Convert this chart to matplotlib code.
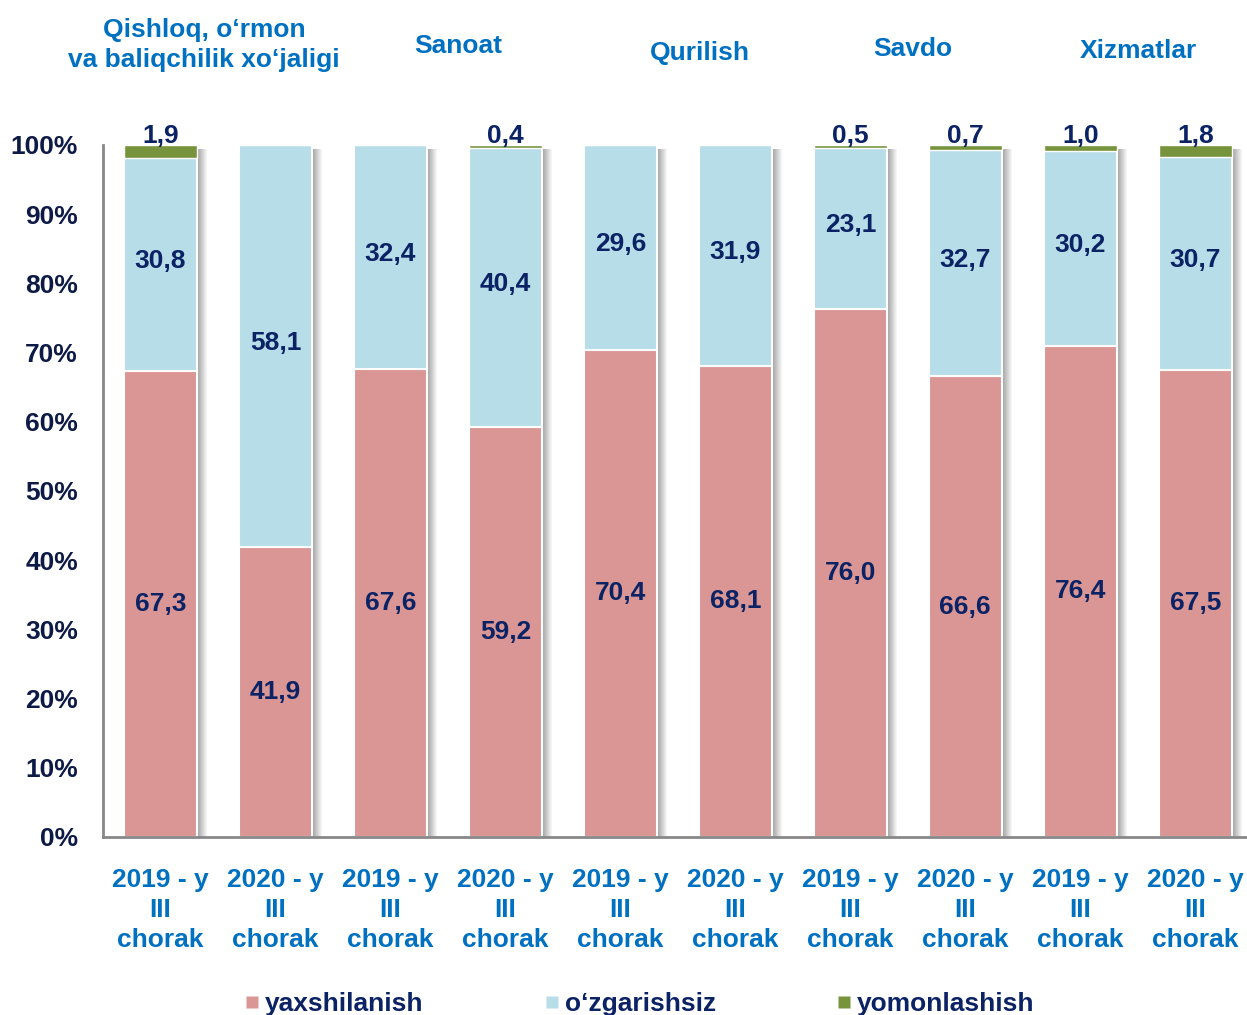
import numpy as np
import matplotlib.pyplot as plt
from matplotlib.lines import Line2D
from matplotlib.patches import Rectangle

plt.rcParams['font.family'] = ['Liberation Sans', 'DejaVu Sans']
plt.rcParams['font.weight'] = 'bold'

# Data (percent of respondents)
periods = ['2019 - y\nIII\nchorak', '2020 - y\nIII\nchorak'] * 5
sectors = ['Qishloq, o‘rmon\nva baliqchilik xo‘jaligi', 'Sanoat', 'Qurilish', 'Savdo', 'Xizmatlar']
yaxshilanish = [67.3, 41.9, 67.6, 59.2, 70.4, 68.1, 76.0, 66.6, 76.4, 67.5]
ozgarishsiz = [30.8, 58.1, 32.4, 40.4, 29.6, 31.9, 23.1, 32.7, 30.2, 30.7]
yomonlashish = [1.9, 0.0, 0.0, 0.4, 0.0, 0.0, 0.5, 0.7, 1.0, 1.8]

c_red = '#D99694'
c_blue = '#B7DDE8'
c_green = '#77933C'
c_head = '#0070C0'
c_lab = '#0B2365'

red = np.array(yaxshilanish)
blue = np.array(ozgarishsiz)
green = np.array(yomonlashish)
total = red + blue + green
# 100% stacked: normalise each column
r_pct = red / total * 100
b_pct = blue / total * 100
g_pct = green / total * 100

fig = plt.figure(figsize=(12.47, 10.15), dpi=100)
ax = fig.add_axes([103 / 1247, 178 / 1015, 1144 / 1247, 692 / 1015])

x = np.arange(len(periods))
w = 0.635

# soft shadow on the right of each bar
for xi, top in zip(x, r_pct + b_pct + g_pct):
    steps = 10
    for k in range(steps):
        ax.add_patch(Rectangle((xi + w / 2 + k * 0.009, 0), 0.009, top - 0.6,
                               facecolor='#444444', alpha=0.5 * (1 - k / steps),
                               edgecolor='none', zorder=1))

ax.bar(x, r_pct, w, color=c_red, edgecolor='white', linewidth=1.5, zorder=2)
ax.bar(x, b_pct, w, bottom=r_pct, color=c_blue, edgecolor='white', linewidth=1.5, zorder=2)
ax.bar(x, g_pct, w, bottom=r_pct + b_pct, color=c_green, edgecolor='white', linewidth=1.0, zorder=2)

fmt = lambda v: f'{v:.1f}'.replace('.', ',')
for i in x:
    ax.text(i, r_pct[i] / 2, fmt(red[i]), ha='center', va='center',
            fontsize=19, color=c_lab, zorder=3)
    ax.text(i, r_pct[i] + b_pct[i] / 2 + 0.5, fmt(blue[i]), ha='center', va='center',
            fontsize=19, color=c_lab, zorder=3)
    if green[i] > 0:
        ax.text(i, 99.5, fmt(green[i]), ha='center', va='bottom',
                fontsize=19, color=c_lab, zorder=3, clip_on=False)

ax.set_xlim(-0.5, 9.45)
ax.set_ylim(0, 100)
ax.set_yticks(range(0, 101, 10))
ax.set_yticklabels([f'{v}%' for v in range(0, 101, 10)], fontsize=19, color='#0D1A45')
ax.set_xticks(x)
ax.set_xticklabels(periods, fontsize=19, color=c_head, linespacing=1.33)
ax.tick_params(axis='both', length=0)
ax.tick_params(axis='y', pad=18)
ax.tick_params(axis='x', pad=22)

for s in ['top', 'right']:
    ax.spines[s].set_visible(False)
for s in ['left', 'bottom']:
    ax.spines[s].set_color('#888888')
    ax.spines[s].set_linewidth(2)

# sector headings above each pair of bars
head_x = [204, 458, 700, 913, 1138]
head_y = [45, 46, 53, 49, 51]
for name, hx, hy in zip(sectors, head_x, head_y):
    fig.text(hx / 1247, 1 - hy / 1015, name, ha='center', va='center',
             fontsize=19, color=c_head, linespacing=1.35)

handles = [Line2D([], [], marker='s', linestyle='none', markersize=9,
                  markerfacecolor=c, markeredgecolor='none') for c in (c_red, c_blue, c_green)]
leg = fig.legend(handles, ['yaxshilanish', 'o‘zgarishsiz', 'yomonlashish'],
                 loc='center', bbox_to_anchor=(640 / 1247, 1 - 1004 / 1015), ncol=3,
                 frameon=False, fontsize=19, handlelength=0.5, handletextpad=0.25,
                 columnspacing=4.6)
for t in leg.get_texts():
    t.set_color(c_lab)

fig.savefig('out.png', dpi=100)
